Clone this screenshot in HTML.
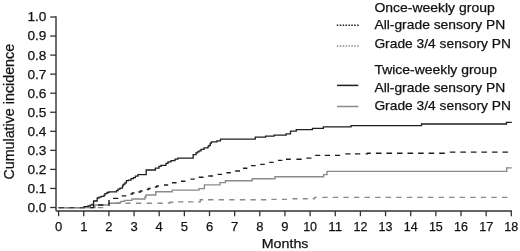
<!DOCTYPE html>
<html><head><meta charset="utf-8"><style>
html,body{margin:0;padding:0;background:#fff;}
svg{display:block;filter:grayscale(1);}
.t{font-family:"Liberation Sans",sans-serif;font-size:14px;fill:#111;stroke:#111;stroke-width:0.25px;}
</style></head><body>
<svg width="520" height="251" viewBox="0 0 520 251">
<path d="M56.0,16.2V210.3Q56.0,211.0 56.7,211.0H512.0" fill="none" stroke="#333" stroke-width="1.4"/>
<path d="M50.2,207.50H56.0" stroke="#333" stroke-width="1.3"/>
<text x="46.4" y="211.90" text-anchor="end" class="t" style="font-size:13px" textLength="19.0" lengthAdjust="spacingAndGlyphs">0.0</text>
<path d="M50.2,188.45H56.0" stroke="#333" stroke-width="1.3"/>
<text x="46.4" y="192.85" text-anchor="end" class="t" style="font-size:13px" textLength="19.0" lengthAdjust="spacingAndGlyphs">0.1</text>
<path d="M50.2,169.40H56.0" stroke="#333" stroke-width="1.3"/>
<text x="46.4" y="173.80" text-anchor="end" class="t" style="font-size:13px" textLength="19.0" lengthAdjust="spacingAndGlyphs">0.2</text>
<path d="M50.2,150.35H56.0" stroke="#333" stroke-width="1.3"/>
<text x="46.4" y="154.75" text-anchor="end" class="t" style="font-size:13px" textLength="19.0" lengthAdjust="spacingAndGlyphs">0.3</text>
<path d="M50.2,131.30H56.0" stroke="#333" stroke-width="1.3"/>
<text x="46.4" y="135.70" text-anchor="end" class="t" style="font-size:13px" textLength="19.0" lengthAdjust="spacingAndGlyphs">0.4</text>
<path d="M50.2,112.25H56.0" stroke="#333" stroke-width="1.3"/>
<text x="46.4" y="116.65" text-anchor="end" class="t" style="font-size:13px" textLength="19.0" lengthAdjust="spacingAndGlyphs">0.5</text>
<path d="M50.2,93.20H56.0" stroke="#333" stroke-width="1.3"/>
<text x="46.4" y="97.60" text-anchor="end" class="t" style="font-size:13px" textLength="19.0" lengthAdjust="spacingAndGlyphs">0.6</text>
<path d="M50.2,74.15H56.0" stroke="#333" stroke-width="1.3"/>
<text x="46.4" y="78.55" text-anchor="end" class="t" style="font-size:13px" textLength="19.0" lengthAdjust="spacingAndGlyphs">0.7</text>
<path d="M50.2,55.10H56.0" stroke="#333" stroke-width="1.3"/>
<text x="46.4" y="59.50" text-anchor="end" class="t" style="font-size:13px" textLength="19.0" lengthAdjust="spacingAndGlyphs">0.8</text>
<path d="M50.2,36.05H56.0" stroke="#333" stroke-width="1.3"/>
<text x="46.4" y="40.45" text-anchor="end" class="t" style="font-size:13px" textLength="19.0" lengthAdjust="spacingAndGlyphs">0.9</text>
<path d="M50.2,17.00H56.0" stroke="#333" stroke-width="1.3"/>
<text x="46.4" y="21.40" text-anchor="end" class="t" style="font-size:13px" textLength="19.0" lengthAdjust="spacingAndGlyphs">1.0</text>
<path d="M58.60,211.0V216.2" stroke="#333" stroke-width="1.3"/>
<text x="58.60" y="230.6" text-anchor="middle" class="t" style="font-size:13px">0</text>
<path d="M83.75,211.0V216.2" stroke="#333" stroke-width="1.3"/>
<text x="83.75" y="230.6" text-anchor="middle" class="t" style="font-size:13px">1</text>
<path d="M108.90,211.0V216.2" stroke="#333" stroke-width="1.3"/>
<text x="108.90" y="230.6" text-anchor="middle" class="t" style="font-size:13px">2</text>
<path d="M134.05,211.0V216.2" stroke="#333" stroke-width="1.3"/>
<text x="134.05" y="230.6" text-anchor="middle" class="t" style="font-size:13px">3</text>
<path d="M159.20,211.0V216.2" stroke="#333" stroke-width="1.3"/>
<text x="159.20" y="230.6" text-anchor="middle" class="t" style="font-size:13px">4</text>
<path d="M184.35,211.0V216.2" stroke="#333" stroke-width="1.3"/>
<text x="184.35" y="230.6" text-anchor="middle" class="t" style="font-size:13px">5</text>
<path d="M209.50,211.0V216.2" stroke="#333" stroke-width="1.3"/>
<text x="209.50" y="230.6" text-anchor="middle" class="t" style="font-size:13px">6</text>
<path d="M234.65,211.0V216.2" stroke="#333" stroke-width="1.3"/>
<text x="234.65" y="230.6" text-anchor="middle" class="t" style="font-size:13px">7</text>
<path d="M259.80,211.0V216.2" stroke="#333" stroke-width="1.3"/>
<text x="259.80" y="230.6" text-anchor="middle" class="t" style="font-size:13px">8</text>
<path d="M284.95,211.0V216.2" stroke="#333" stroke-width="1.3"/>
<text x="284.95" y="230.6" text-anchor="middle" class="t" style="font-size:13px">9</text>
<path d="M310.10,211.0V216.2" stroke="#333" stroke-width="1.3"/>
<text x="310.10" y="230.6" text-anchor="middle" class="t" style="font-size:13px" textLength="13.9" lengthAdjust="spacingAndGlyphs">10</text>
<path d="M335.25,211.0V216.2" stroke="#333" stroke-width="1.3"/>
<text x="335.25" y="230.6" text-anchor="middle" class="t" style="font-size:13px" textLength="13.9" lengthAdjust="spacingAndGlyphs">11</text>
<path d="M360.40,211.0V216.2" stroke="#333" stroke-width="1.3"/>
<text x="360.40" y="230.6" text-anchor="middle" class="t" style="font-size:13px" textLength="13.9" lengthAdjust="spacingAndGlyphs">12</text>
<path d="M385.55,211.0V216.2" stroke="#333" stroke-width="1.3"/>
<text x="385.55" y="230.6" text-anchor="middle" class="t" style="font-size:13px" textLength="13.9" lengthAdjust="spacingAndGlyphs">13</text>
<path d="M410.70,211.0V216.2" stroke="#333" stroke-width="1.3"/>
<text x="410.70" y="230.6" text-anchor="middle" class="t" style="font-size:13px" textLength="13.9" lengthAdjust="spacingAndGlyphs">14</text>
<path d="M435.85,211.0V216.2" stroke="#333" stroke-width="1.3"/>
<text x="435.85" y="230.6" text-anchor="middle" class="t" style="font-size:13px" textLength="13.9" lengthAdjust="spacingAndGlyphs">15</text>
<path d="M461.00,211.0V216.2" stroke="#333" stroke-width="1.3"/>
<text x="461.00" y="230.6" text-anchor="middle" class="t" style="font-size:13px" textLength="13.9" lengthAdjust="spacingAndGlyphs">16</text>
<path d="M486.15,211.0V216.2" stroke="#333" stroke-width="1.3"/>
<text x="486.15" y="230.6" text-anchor="middle" class="t" style="font-size:13px" textLength="13.9" lengthAdjust="spacingAndGlyphs">17</text>
<path d="M511.30,211.0V216.2" stroke="#333" stroke-width="1.3"/>
<text x="511.30" y="230.6" text-anchor="middle" class="t" style="font-size:13px" textLength="13.9" lengthAdjust="spacingAndGlyphs">18</text>
<text x="285.1" y="248.2" text-anchor="middle" class="t" style="font-size:13.2px" textLength="46.7" lengthAdjust="spacingAndGlyphs">Months</text>
<text transform="translate(13.6,111.75) rotate(-90)" text-anchor="middle" class="t" style="font-size:14.2px" textLength="135.7" lengthAdjust="spacingAndGlyphs">Cumulative incidence</text>
<path d="M58.6,207.6H84.0V206.7H88.0V206.0H90.2V205.2H92.0V204.4H93.6V201.0H97.2V198.0H99.0V197.2H101.0V196.3H104.0V195.1H105.0V193.7H107.0V192.5H109.0V191.9H116.5V190.7H118.0V189.2H120.0V188.2H122.4V186.2H123.0V185.0H123.6V184.2H125.0V182.9H126.4V180.7H128.4V180.2H131.0V178.7H133.4V177.7H135.4V176.2H137.9V174.7H146.2V170.0H155.4V168.2H159.0V166.4H161.0V165.4H166.0V163.3H168.0V161.8H171.0V160.7H175.0V159.2H177.8V158.1H193.2V154.6H196.0V152.8H197.5V151.8H199.0V150.8H201.0V149.4H204.0V147.9H208.0V146.4H209.0V145.4H210.3V143.2H211.4V141.9H217.0V140.9H220.5V139.2H255.3V137.2H265.6V136.2H274.1V135.2H286.2V133.8H290.5V131.1H296.3V129.6H312.4V128.3H323.3V126.9H351.0V125.7H421.5V124.0H506.5V122.4H511.8" fill="none" stroke="#1e1e1e" stroke-width="1.3"/>
<path d="M58.6,207.6H95.0V205.0H109.0V203.3H120.0V202.4H121.0V201.4H124.5V200.4H132.0V199.0H145.0V197.0H146.0V195.0H147.0V195.0H155.8V191.8H172.2V190.1H199.0V188.6H204.4V184.9H220.0V182.6H225.4V180.7H252.2V178.7H275.0V176.8H323.6V174.6H327.0V171.4H506.7V167.9H511.8" fill="none" stroke="#8a8a8a" stroke-width="1.4"/>
<path d="M58.6,207.6H60.9M66.2,207.6H71.4M76.8,207.6H82.0M87.3,207.6H92.6M97.9,207.6H103.2M114.8,203.3H120.0M125.4,203.3H130.6M136.0,203.3H141.2M146.8,203.3H151.9M157.5,203.2H162.8M167.8,203.0H170.0V202.2H173.3M178.0,201.9H183.4M188.0,201.9H193.5M198.0,201.9H200.3V199.8H203.2M208.0,199.8H213.5M218.6,199.8H224.0M229.2,199.8H234.6M239.8,199.8H245.2M250.4,199.8H255.8M260.9,199.8H266.2M271.4,199.4H276.6M282.0,199.4H287.0M292.5,198.8H297.6M302.8,198.8H307.8M312.8,198.8H314.5V197.4H316.8M322.2,197.4H327.7M332.8,197.4H338.3M343.3,197.4H348.8M353.9,197.4H359.4M364.5,197.4H370.0M375.1,197.4H380.6M385.6,197.4H391.1M396.2,197.4H401.7M406.8,197.4H412.3M417.3,197.4H422.8M427.9,197.4H433.4M438.5,197.4H444.0M449.0,197.4H454.5M459.6,197.4H465.1M470.2,197.4H475.7M480.8,197.4H486.2M491.3,197.4H496.8M501.9,197.4H507.4" fill="none" stroke="#8a8a8a" stroke-width="1.4"/>
<path d="M90.4,207.6H93.5V205.0M98.1,205.0H103.4M108.3,205.0H109.0V199.9M113.0,198.4H118.3M121.6,195.9H126.3M130.4,194.0H132.4V193.0H134.5M138.4,192.0H140.4V191.0H142.6M146.8,189.5H148.6V188.5H150.7M154.8,187.0H156.8V186.0H158.9M164.0,185.0H168.2M172.0,182.8H176.5M181.0,181.2H185.4M190.5,179.1H194.8M198.7,177.2H203.5M208.3,176.0H213.0M217.6,174.4H222.0M226.4,172.8H230.8M235.2,171.0H240.0M243.0,168.3H247.4M251.0,165.6H255.7M260.3,164.4H264.8M269.2,162.4H273.6M278.0,160.4H282.4M286.0,159.3H290.8M296.4,159.2H301.7M306.4,158.1H311.4M315.2,155.4H320.3M324.7,155.4H330.0M335.0,155.4H340.2M345.3,153.9H350.5M355.0,153.9H360.2M365.6,153.9H367.5V153.2H370.8M375.9,153.2H381.5M386.4,153.2H392.1M397.0,153.2H402.6M407.5,153.2H413.1M418.1,153.2H423.7M428.6,153.2H434.2M439.2,153.2H444.8M449.8,152.1H455.4M460.3,152.1H465.9M470.9,152.1H476.5M481.4,152.1H487.0M491.9,152.1H497.6M502.5,152.1H508.1" fill="none" stroke="#1e1e1e" stroke-width="1.4"/>
<path d="M58.6,207.6H64.0M69.2,207.6H74.5M79.8,207.6H85.1" fill="none" stroke="#444" stroke-width="1.4"/>
<text x="374.4" y="11.6" class="t" style="font-size:13.5px" textLength="120.3" lengthAdjust="spacingAndGlyphs">Once-weekly group</text>
<text x="374.4" y="29.0" class="t" style="font-size:13.5px" textLength="130.9" lengthAdjust="spacingAndGlyphs">All-grade sensory PN</text>
<path d="M336.8,25.2H358.6" stroke="#1e1e1e" stroke-width="1.5" stroke-dasharray="1.5 1.4"/>
<text x="374.4" y="47.9" class="t" style="font-size:13.5px" textLength="136.5" lengthAdjust="spacingAndGlyphs">Grade 3/4 sensory PN</text>
<path d="M336.8,46.0H358.6" stroke="#8a8a8a" stroke-width="1.5" stroke-dasharray="1.5 1.4"/>
<text x="374.4" y="74.1" class="t" style="font-size:13.5px" textLength="122.5" lengthAdjust="spacingAndGlyphs">Twice-weekly group</text>
<text x="374.4" y="92.1" class="t" style="font-size:13.5px" textLength="130.9" lengthAdjust="spacingAndGlyphs">All-grade sensory PN</text>
<path d="M337,85.4H358.3" stroke="#1e1e1e" stroke-width="1.5"/>
<text x="374.4" y="110.1" class="t" style="font-size:13.5px" textLength="136.5" lengthAdjust="spacingAndGlyphs">Grade 3/4 sensory PN</text>
<path d="M337,106.5H358.3" stroke="#8a8a8a" stroke-width="1.5"/>
</svg>
</body></html>
